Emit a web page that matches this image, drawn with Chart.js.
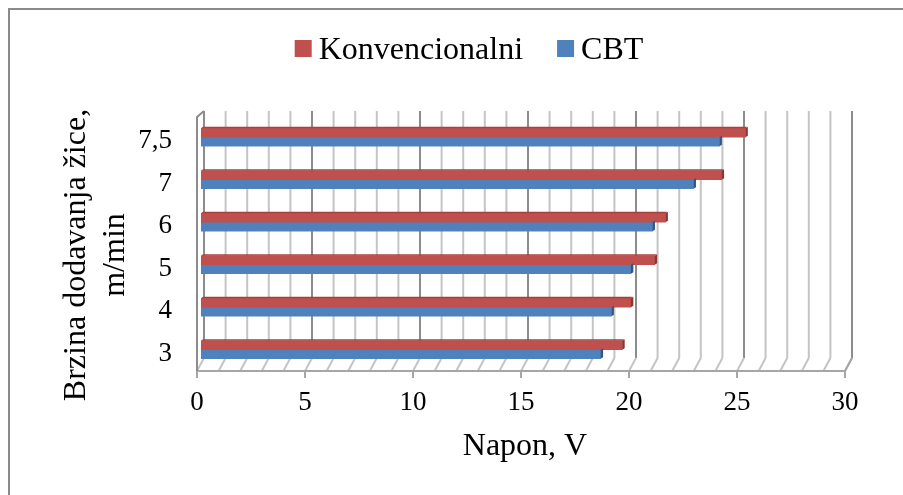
<!DOCTYPE html>
<html>
<head>
<meta charset="utf-8">
<script src="https://cdn.jsdelivr.net/npm/chart.js@4"></script>
<style>
  html, body { margin: 0; padding: 0; background: #fff; }
  #wrap { width: 903px; height: 495px; }
</style>
</head>
<body>
<div id="wrap"><canvas id="c" width="903" height="495"></canvas></div>
<script>
// Brzina dodavanja žice (m/min) vs napon (V)
const categories = ['3', '4', '5', '6', '7', '7,5'];
const konvencionalni = [19.5, 19.9, 21.0, 21.5, 24.1, 25.2];
const cbt = [18.5, 19.0, 19.9, 20.9, 22.8, 24.0];
const seriesNames = ['Konvencionalni', 'CBT'];
const xMin = 0;
const xMax = 30;
const xStep = 5;

const RED = '#c0504d';
const BLUE = '#4f81bd';
const SERIF = "'Liberation Serif', 'Times New Roman', serif";

// back wall + floor, drawn behind the bars
const DX_BACK = 3, DX_FRONT = -4;
const wallPlugin = {
  id: 'wall3d',
  beforeDraw(chart) {
    const ctx = chart.ctx;
    ctx.save();
    ctx.fillStyle = '#fff';
    ctx.fillRect(0, 0, chart.width, chart.height);
    ctx.strokeStyle = '#8a8a8a';
    ctx.lineWidth = 2;
    ctx.strokeRect(9, 9, chart.width + 20, chart.height + 20);
    ctx.restore();
  },
  beforeDatasetsDraw(chart) {
    const ctx = chart.ctx;
    const xs = chart.scales.x;
    const { top, bottom, left } = chart.chartArea;
    const backTop = top - 5, backBottom = bottom - 13;
    ctx.save();
    ctx.lineWidth = 2;
    for (let v = xMin; v <= xMax; v++) {
      const px = xs.getPixelForValue(v);
      const major = v % xStep === 0;
      ctx.strokeStyle = major ? '#8c8c8c' : '#c4c4c4';
      ctx.beginPath();
      ctx.moveTo(px + DX_BACK, backTop);
      ctx.lineTo(px + DX_BACK, backBottom);
      ctx.stroke();
      ctx.strokeStyle = '#c4c4c4';
      ctx.beginPath();
      ctx.moveTo(px + DX_BACK, backBottom);
      ctx.lineTo(px + DX_FRONT, bottom);
      ctx.stroke();
    }
    const x0 = xs.getPixelForValue(xMin), x1 = xs.getPixelForValue(xMax);
    // floor front edge
    ctx.strokeStyle = '#a6a6a6';
    ctx.beginPath();
    ctx.moveTo(x0 + DX_FRONT, bottom);
    ctx.lineTo(x1 + DX_FRONT, bottom);
    ctx.lineTo(x1 + DX_BACK, backBottom);
    ctx.stroke();
    // left wall
    ctx.strokeStyle = '#8c8c8c';
    ctx.beginPath();
    ctx.moveTo(left + DX_FRONT, bottom);
    ctx.lineTo(left + DX_FRONT, top + 1);
    ctx.lineTo(left + DX_BACK, backTop);
    ctx.stroke();
    // tick marks on the front edge
    ctx.strokeStyle = '#a6a6a6';
    for (let v = xMin; v <= xMax; v += xStep) {
      const px = xs.getPixelForValue(v) + DX_FRONT;
      ctx.beginPath();
      ctx.moveTo(px, bottom);
      ctx.lineTo(px, bottom + 7);
      ctx.stroke();
    }
    ctx.restore();
  },
  // bar end faces and top face for a bit of depth
  afterDatasetsDraw(chart) {
    const ctx = chart.ctx;
    const ends = ['#8f3431', '#2f5686'];
    ctx.save();
    for (let i = chart.data.datasets.length - 1; i >= 0; i--) {
      const meta = chart.getDatasetMeta(i);
      meta.data.forEach(bar => {
        const { x, y, base, height } = bar.getProps(['x', 'y', 'base', 'height'], true);
        const t = y - height / 2, b = y + height / 2;
        if (i === 0) {
          ctx.fillStyle = '#a5423f';
          ctx.beginPath();
          ctx.moveTo(base, t);
          ctx.lineTo(base + 2, t - 1.5);
          ctx.lineTo(x + 2, t - 1.5);
          ctx.lineTo(x, t);
          ctx.closePath();
          ctx.fill();
        }
        ctx.fillStyle = ends[i];
        ctx.beginPath();
        ctx.moveTo(x, t);
        ctx.lineTo(x + 2.5, t - 1.5);
        ctx.lineTo(x + 2.5, b - 1.5);
        ctx.lineTo(x, b);
        ctx.closePath();
        ctx.fill();
      });
    }
    ctx.restore();
  },
  // legend and vertical axis title
  afterDraw(chart) {
    const ctx = chart.ctx;
    ctx.save();
    ctx.font = '32px ' + SERIF;
    ctx.fillStyle = '#000';
    ctx.textBaseline = 'alphabetic';
    const colors = chart.data.datasets.map(d => d.backgroundColor);
    const box = 17, gap = 7, spacing = 34;
    const widths = seriesNames.map(n => ctx.measureText(n).width);
    let total = 0;
    widths.forEach((w, i) => { total += box + gap + w + (i ? spacing : 0); });
    let x = 469 - total / 2;
    seriesNames.forEach((n, i) => {
      ctx.fillStyle = colors[i];
      ctx.fillRect(x, 40, box, box);
      ctx.fillStyle = '#000';
      ctx.fillText(n, x + box + gap, 59);
      x += box + gap + widths[i] + spacing;
    });

    ctx.translate(0, 255);
    ctx.rotate(-Math.PI / 2);
    ctx.textAlign = 'center';
    ctx.textBaseline = 'middle';
    ctx.fillText('Brzina dodavanja žice,', 0, 77);
    ctx.fillText('m/min', 0, 116);
    ctx.restore();
  }
};

new Chart(document.getElementById('c'), {
  type: 'bar',
  data: {
    labels: categories,
    datasets: [
      { label: seriesNames[0], data: konvencionalni, backgroundColor: RED, barThickness: 9 },
      { label: seriesNames[1], data: cbt, backgroundColor: BLUE, barThickness: 9 },
    ],
  },
  options: {
    indexAxis: 'y',
    responsive: false,
    animation: false,
    devicePixelRatio: 1,
    layout: { padding: { top: 116, right: 54, bottom: 0, left: 0 } },
    plugins: {
      legend: { display: false },
      tooltip: { enabled: false },
    },
    scales: {
      x: {
        min: xMin,
        max: xMax,
        ticks: {
          stepSize: xStep,
          color: '#000',
          font: { family: SERIF, size: 27 },
          padding: 16,
          labelOffset: DX_FRONT,
        },
        grid: { display: false, drawTicks: false },
        border: { display: false },
        title: {
          display: true,
          text: 'Napon, V',
          color: '#000',
          font: { family: SERIF, size: 32 },
          padding: { top: 0, bottom: 29 },
        },
        afterFit(scale) { scale.height = 124; },
      },
      y: {
        reverse: true,
        ticks: {
          color: '#000',
          font: { family: SERIF, size: 27 },
          padding: 29,
          labelOffset: 4,
        },
        grid: { display: false, drawTicks: false },
        border: { display: false },
        afterFit(scale) { scale.width = 201; },
      },
    },
  },
  plugins: [wallPlugin],
});
</script>
</body>
</html>
